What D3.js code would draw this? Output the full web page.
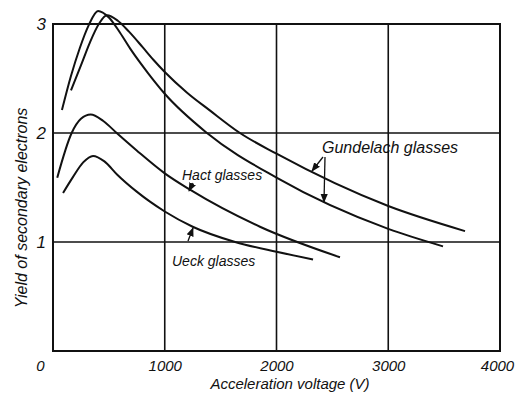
<!DOCTYPE html>
<html>
<head>
<meta charset="utf-8">
<script src="https://cdn.jsdelivr.net/npm/d3@7"></script>
<style>
  html, body { margin: 0; padding: 0; background: #fff; }
  svg text { font-family: "Liberation Sans", Arial, sans-serif; font-style: italic; fill: #111; }
</style>
</head>
<body>
<svg id="chart" width="519" height="394"></svg>
<script>
// ---- data ----
const xTickValues = [0, 1000, 2000, 3000, 4000];
const xTickLabels = ["0", "1000", "2000", "3000", "4000"];
const yTickValues = [1, 2, 3];
const yTickLabels = ["1", "2", "3"];
const xGridValues = [1000, 2000, 3000];
const yGridValues = [1, 2];

// Gundelach glasses (two samples)
const gundelachA_x = [80, 160, 240, 320, 403, 500, 600, 700, 850, 1000, 1378, 2000, 3000, 3490];
const gundelachA_y = [2.21, 2.52, 2.78, 2.99, 3.12, 3.06, 2.92, 2.76, 2.55, 2.36, 2.00, 1.59, 1.12, 0.96];
const gundelachB_x = [161, 250, 330, 410, 483, 580, 680, 800, 900, 1000, 1200, 1400, 1673, 2000, 3000, 3687];
const gundelachB_y = [2.39, 2.62, 2.83, 3.00, 3.08, 3.03, 2.93, 2.79, 2.67, 2.56, 2.37, 2.21, 2.00, 1.81, 1.33, 1.10];
// Hact glasses
const hact_x = [38, 167, 250, 337, 450, 570, 749, 1000, 1226, 1852, 2568];
const hact_y = [1.59, 2.00, 2.13, 2.17, 2.11, 2.00, 1.84, 1.63, 1.48, 1.14, 0.86];
// Ueck glasses
const ueck_x = [90, 181, 270, 358, 460, 573, 752, 868, 1000, 1250, 1630, 2000, 2327];
const ueck_y = [1.45, 1.60, 1.73, 1.79, 1.74, 1.62, 1.46, 1.37, 1.28, 1.14, 1.00, 0.91, 0.84];

const seriesNames = ["Gundelach glasses", "Hact glasses", "Ueck glasses"];
const xTitle = "Acceleration voltage   (V)";
const yTitle = "Yield of secondary electrons";

// ---- layout ----
const svg = d3.select("#chart");
const x = d3.scaleLinear().domain([0, 4000]).range([53, 500]);
const y = d3.scaleLinear().domain([0, 3]).range([351, 24]);
const ink = "#111";

const defs = svg.append("defs");
defs.append("marker").attr("id", "arr")
  .attr("viewBox", "0 0 10 10").attr("refX", 9).attr("refY", 5)
  .attr("markerWidth", 7).attr("markerHeight", 7).attr("orient", "auto")
  .append("path").attr("d", "M0,1 L10,5 L0,9 Z").attr("fill", ink);

// grid lines
svg.append("g").selectAll("line").data(xGridValues).join("line")
  .attr("x1", d => x(d)).attr("x2", d => x(d))
  .attr("y1", y(0)).attr("y2", y(3))
  .attr("stroke", ink).attr("stroke-width", 1.6);
svg.append("g").selectAll("line").data(yGridValues).join("line")
  .attr("x1", x(0)).attr("x2", x(4000))
  .attr("y1", d => y(d)).attr("y2", d => y(d))
  .attr("stroke", ink).attr("stroke-width", 1.6);

// frame
svg.append("rect")
  .attr("x", x(0)).attr("y", y(3))
  .attr("width", x(4000) - x(0)).attr("height", y(0) - y(3))
  .attr("fill", "none").attr("stroke", ink).attr("stroke-width", 2);

// axes (labels only)
const xAxis = d3.axisBottom(x).tickValues(xTickValues)
  .tickFormat((d, i) => xTickLabels[i]).tickSize(0).tickPadding(9);
const gx = svg.append("g").attr("transform", `translate(0,${y(0)})`).call(xAxis);
gx.select(".domain").remove();
gx.selectAll("text").attr("font-size", 15).attr("font-family", "Liberation Sans")
  .attr("font-style", "italic").attr("fill", ink)
  .attr("dx", d => d === 0 ? -13 : (d === 4000 ? -3 : 0));

const yAxis = d3.axisLeft(y).tickValues(yTickValues)
  .tickFormat((d, i) => yTickLabels[i]).tickSize(0).tickPadding(7);
const gy = svg.append("g").attr("transform", `translate(${x(0)},0)`).call(yAxis);
gy.select(".domain").remove();
gy.selectAll("text").attr("font-size", 17).attr("font-family", "Liberation Sans")
  .attr("font-style", "italic").attr("fill", ink);

// titles
svg.append("text").attr("x", 290).attr("y", 389).attr("text-anchor", "middle")
  .attr("font-size", 15).text(xTitle);
svg.append("text").attr("transform", "translate(27,208) rotate(-90)")
  .attr("text-anchor", "middle").attr("font-size", 16).text(yTitle);

// curves
const line = d3.line().x(d => x(d[0])).y(d => y(d[1])).curve(d3.curveMonotoneX);
const curves = [
  d3.zip(gundelachA_x, gundelachA_y),
  d3.zip(gundelachB_x, gundelachB_y),
  d3.zip(hact_x, hact_y),
  d3.zip(ueck_x, ueck_y)
];
svg.append("g").selectAll("path").data(curves).join("path")
  .attr("d", line).attr("fill", "none").attr("stroke", ink).attr("stroke-width", 2);

// labels
svg.append("text").attr("x", 322).attr("y", 153).attr("font-size", 16).text(seriesNames[0]);
svg.append("text").attr("x", 182).attr("y", 180).attr("font-size", 14).text(seriesNames[1]);
svg.append("text").attr("x", 172).attr("y", 266).attr("font-size", 14).text(seriesNames[2]);

// pointer arrows
function arrow(x1, y1, x2, y2) {
  svg.append("line").attr("x1", x1).attr("y1", y1).attr("x2", x2).attr("y2", y2)
    .attr("stroke", ink).attr("stroke-width", 1.3).attr("marker-end", "url(#arr)");
}
arrow(323, 157, 312, 171);
arrow(325, 157, 324, 202);
arrow(193, 183, 189, 191);
arrow(188, 241, 193, 228);
</script>
</body>
</html>
